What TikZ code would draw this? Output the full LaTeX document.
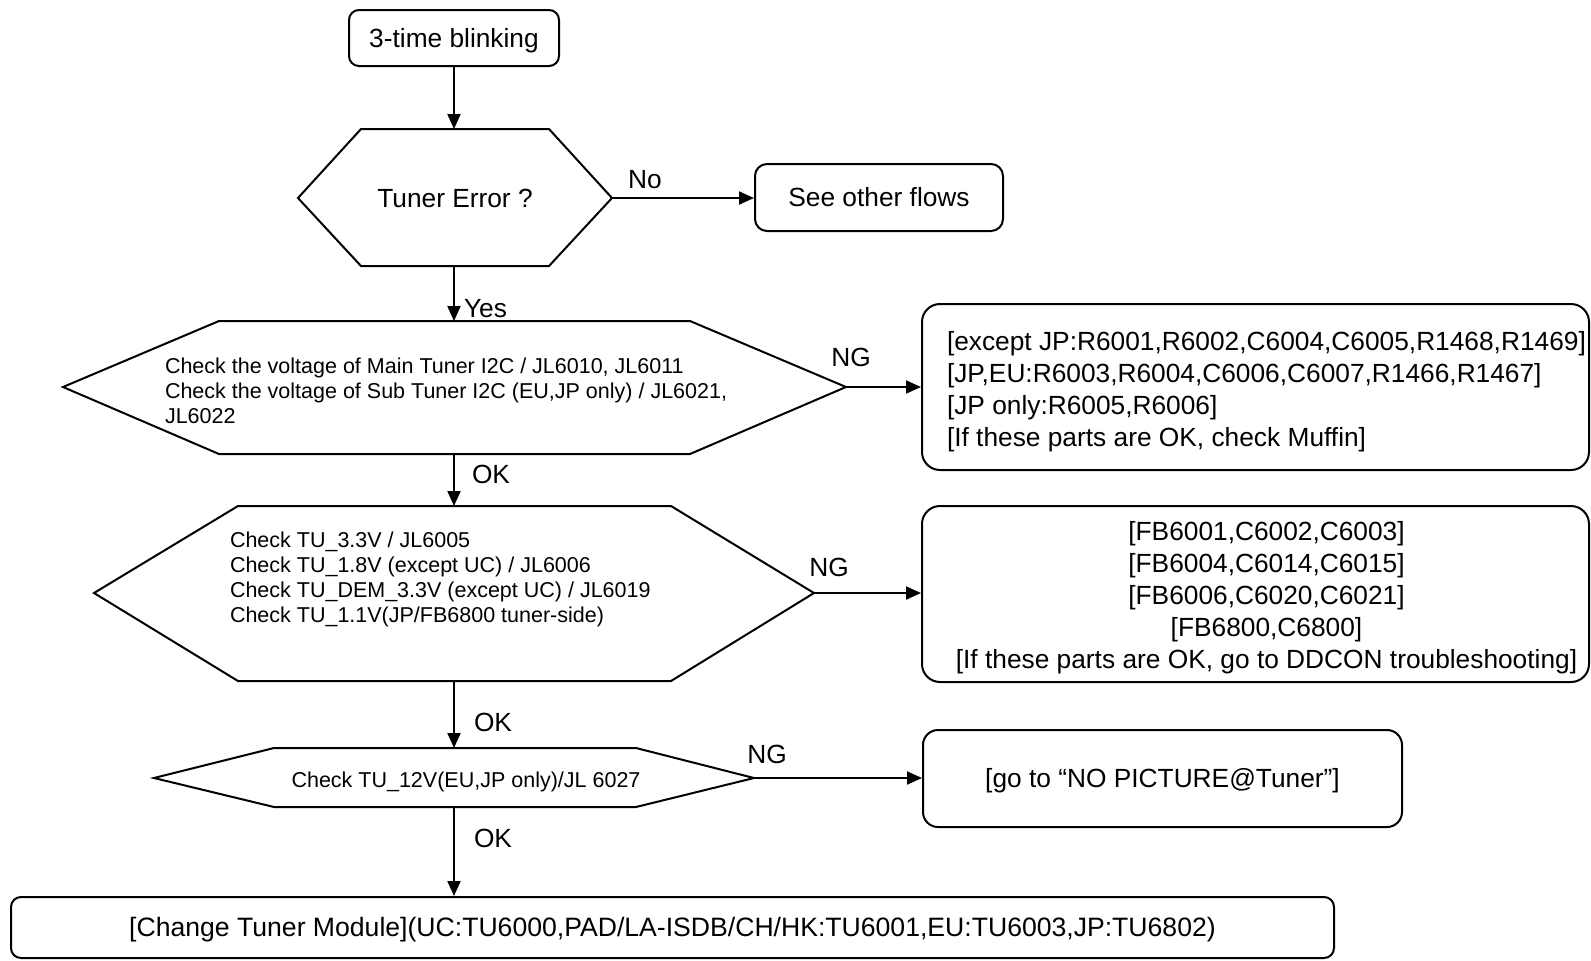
\documentclass[tikz,border=0pt]{standalone}
\usepackage{fontspec}
\setmainfont{Liberation Sans}
\usetikzlibrary{arrows.meta}
\newcommand\bigtxt{\fontsize{13.15}{16}\selectfont}
\newcommand\smalltxt{\fontsize{10.75}{12.6}\selectfont}

\begin{document}
\begin{tikzpicture}[x=0.5pt,y=-0.5pt,line width=1pt,>={Triangle[length=7.5pt,width=6.5pt]},
 box/.style={draw,rounded corners=#1,inner sep=0pt,font=\bigtxt},
 box/.default=6pt,
 oneline/.style={text height=11.9pt,text depth=2.8pt},
 lbl/.style={inner sep=0pt,font=\bigtxt},
 chk/.style={inner sep=0pt,font=\smalltxt,align=left}]
 \useasboundingbox (0,0) rectangle (1591,960); % 全体の範囲

 \node[box=5pt,oneline,minimum width=105pt,minimum height=28pt] (blink) at (454,38) {3-time blinking}; % 開始

 % 判定 Tuner Error
 \coordinate (errN) at (454,129); % 上
 \coordinate (errS) at (454,266); % 下
 \coordinate (errE) at (612,198); % 右端
 \coordinate (errW) at (298,198); % 左端
 \draw (361,129) -- (549,129) -- (errE) -- (549,266) -- (361,266) -- (errW) -- cycle;
 \node[lbl] (err) at (455,198) {Tuner Error ?};

 \node[box,oneline,minimum width=124pt,minimum height=33.5pt] (other) at (879,197.5) {See other flows};

 % 判定 I2C
 \coordinate (h2N) at (454,321);
 \coordinate (h2S) at (454,454);
 \coordinate (h2E) at (846,387);
 \coordinate (h2W) at (63,387);
 \draw (219,321) -- (690,321) -- (h2E) -- (690,454) -- (219,454) -- (h2W) -- cycle;
 \node[chk,anchor=west] (i2c) at (164,391) {Check the voltage of Main Tuner I2C / JL6010, JL6011\\Check the voltage of Sub Tuner I2C (EU,JP only) / JL6021,\\JL6022};

 \node[box=9pt,minimum width=333.5pt,minimum height=83pt] (i2cng) at (1255.5,387) {};
 \node[lbl,align=left,anchor=west] (i2cparts) at (946,392) {{[}except JP:R6001,R6002,C6004,C6005,R1468,R1469]\\{[}JP,EU:R6003,R6004,C6006,C6007,R1466,R1467]\\{[}JP only:R6005,R6006]\\{[}If these parts are OK, check Muffin]};

 % 判定 電源
 \coordinate (h3N) at (454,506);
 \coordinate (h3S) at (454,681);
 \coordinate (h3E) at (814,593);
 \coordinate (h3W) at (94,593);
 \draw (238,506) -- (671,506) -- (h3E) -- (671,681) -- (238,681) -- (h3W) -- cycle;
 \node[chk,anchor=west] (pwr) at (229,579.5) {Check TU\_3.3V / JL6005\\Check TU\_1.8V (except UC) / JL6006\\Check TU\_DEM\_3.3V (except UC) / JL6019\\Check TU\_1.1V(JP/FB6800 tuner-side)};

 \node[box=9pt,minimum width=333.5pt,minimum height=88pt] (pwrng) at (1255.5,594) {};
 \node[lbl,align=center] (pwrparts) at (1266.5,598) {{[}FB6001,C6002,C6003]\\{[}FB6004,C6014,C6015]\\{[}FB6006,C6020,C6021]\\{[}FB6800,C6800]\\{[}If these parts are OK, go to DDCON troubleshooting]};

 % 判定 12V
 \coordinate (h4N) at (454,748);
 \coordinate (h4S) at (454,807);
 \coordinate (h4E) at (754,778);
 \coordinate (h4W) at (154,778);
 \draw (274,748) -- (636,748) -- (h4E) -- (636,807) -- (274,807) -- (h4W) -- cycle;
 \node[chk] (tw) at (466,782) {Check TU\_12V(EU,JP only)/JL 6027};

 \node[box=7.5pt,oneline,minimum width=239.5pt,minimum height=48.5pt] (pic) at (1162.5,778.5) {[go to “NO PICTURE@Tuner”]};

 \node[box=5pt,oneline,minimum width=661.5pt,minimum height=30.5pt,font=\fontsize{13.3}{16}\selectfont] (chg) at (672.5,927.5) {[Change Tuner Module](UC:TU6000,PAD/LA-ISDB/CH/HK:TU6001,EU:TU6003,JP:TU6802)}; % 交換

 % 矢印
 \draw[->] (blink.south) -- (errN);
 \draw[->] (errE) -- (errE -| other.west);
 \draw[->] (errS) -- (h2N);
 \draw[->] (h2E) -- (h2E -| i2cng.west);
 \draw[->] (h2S) -- (h3N);
 \draw[->] (h3E) -- (h3E -| pwrng.west);
 \draw[->] (h3S) -- (h4N);
 \draw[->] (h4E) -- (h4E -| pic.west);
 \draw[->] (h4S) -- (h4S |- chg.north);

 % ラベル
 \node[lbl] (no) at (645,180) {No};
 \node[lbl,anchor=west] (yes) at (463,308.5) {Yes};
 \node[lbl] (ngA) at (851,357) {NG};
 \node[lbl] (okA) at (491,474.5) {OK};
 \node[lbl] (ngB) at (829,567) {NG};
 \node[lbl] (okB) at (493,722) {OK};
 \node[lbl] (ngC) at (767,754) {NG};
 \node[lbl] (okC) at (493,838) {OK};
\end{tikzpicture}
\end{document}
